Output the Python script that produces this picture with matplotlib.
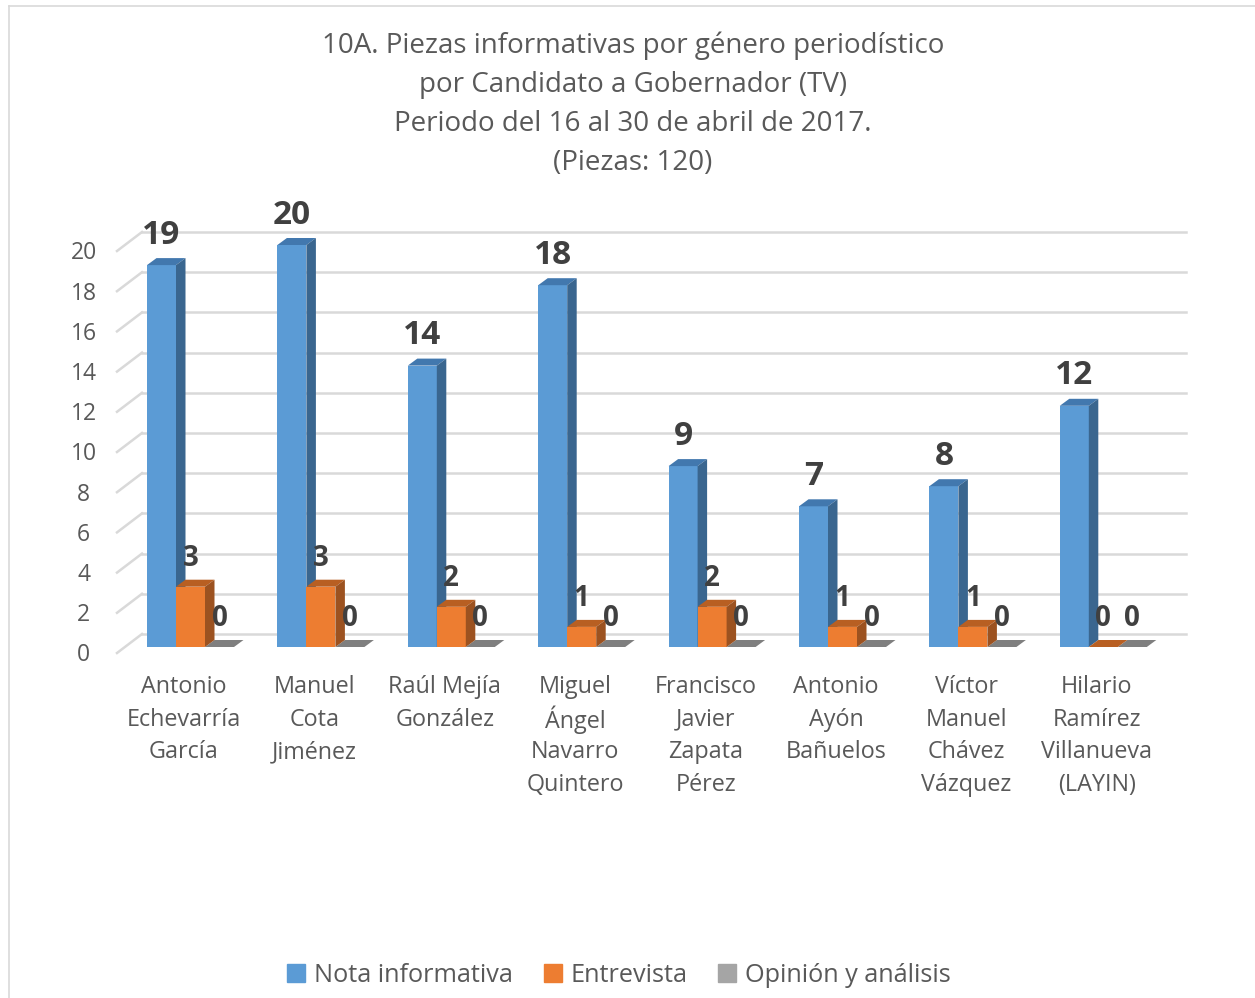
import matplotlib
matplotlib.use("Agg")
import matplotlib.pyplot as plt
from matplotlib.patches import Patch
from matplotlib.lines import Line2D

plt.rcParams["font.family"] = ["Open Sans", "DejaVu Sans"]

# datos
candidatos = [
    ["Antonio", "Echevarría", "García"],
    ["Manuel", "Cota", "Jiménez"],
    ["Raúl Mejía", "González"],
    ["Miguel", "Ángel", "Navarro", "Quintero"],
    ["Francisco", "Javier", "Zapata", "Pérez"],
    ["Antonio", "Ayón", "Bañuelos"],
    ["Víctor", "Manuel", "Chávez", "Vázquez"],
    ["Hilario", "Ramírez", "Villanueva", "(LAYIN)"],
]
nota = [19, 20, 14, 18, 9, 7, 8, 12]
entrevista = [3, 3, 2, 1, 2, 1, 1, 0]
opinion = [0, 0, 0, 0, 0, 0, 0, 0]
yticks = list(range(0, 21, 2))
titulo = [
    "10A. Piezas informativas por género periodístico",
    "por Candidato a Gobernador (TV)",
    "Periodo del 16 al 30 de abril de 2017.",
    "(Piezas: 120)",
]
nombres = ["Nota informativa", "Entrevista", "Opinión y análisis"]

W, H = 1255, 998
TXT = "#595959"
GRID = "#D9D9D9"
PX_Y = 402 / 20       # pixeles por unidad
PX_X = 130.4          # pixeles por categoria
BAR_W = 29 / PX_X
DX = 9.5 / PX_X       # profundidad de la barra
DY = 7 / PX_Y

fig = plt.figure(figsize=(W / 100, H / 100), dpi=100)
x_ini = 190.5 - PX_X / 2
ax = fig.add_axes([x_ini / W, (H - 647) / H, 8 * PX_X / W, 402 / H])
ax.set_xlim(-0.5, 7.5)
ax.set_ylim(0, 20)
ax.axis("off")

# borde del area del grafico
fig.add_artist(Line2D([8.5 / W, 8.5 / W], [0, 1 - 5.5 / H], color="#D9D9D9", lw=1.2))
fig.add_artist(Line2D([8.5 / W, 1], [1 - 5.5 / H, 1 - 5.5 / H], color="#D9D9D9", lw=1.2))

# rejilla en la pared del fondo y lineas laterales
gx0 = -0.5 + (142 - x_ini) / PX_X
gx1 = -0.5 + (1186 - x_ini) / PX_X
for v in yticks:
    y = v + 13 / PX_Y
    ax.plot([gx0, gx1], [y, y], color=GRID, lw=1.8, clip_on=False, zorder=1)
    ax.plot([gx0 - 25 / PX_X, gx0], [v - 6 / PX_Y, y], color=GRID, lw=1.8, clip_on=False, zorder=1)
    ax.text(-0.5 - 41.5 / PX_X, v - 0.42, str(v), ha="center", va="center",
            fontsize=16.5, color=TXT)


def barra3d(x, v, front, top, side, z):
    x0 = x - BAR_W / 2
    x1 = x + BAR_W / 2
    ax.bar(x, v, BAR_W, color=front, zorder=z, clip_on=False)
    ax.fill([x0, x1, x1 + DX, x0 + DX], [v, v, v + DY, v + DY], color=top, lw=0, zorder=z, clip_on=False)
    ax.fill([x1, x1 + DX, x1 + DX, x1], [0, DY, v + DY, v], color=side, lw=0, zorder=z, clip_on=False)


for i in range(len(candidatos)):
    z = 3 + i * 3
    barra3d(i - BAR_W, nota[i], "#5B9BD5", "#4278AE", "#3A668F", z)
    barra3d(i + BAR_W, opinion[i], "#A5A5A5", "#7F7F7F", "#7F7F7F", z + 1)
    barra3d(i, entrevista[i], "#ED7D31", "#B85F22", "#9C5220", z + 2)

    ax.text(i - BAR_W, nota[i] + 30 / PX_Y, str(nota[i]), ha="center", va="center",
            fontsize=24, fontweight="bold", color="#404040", zorder=50)
    ax.text(i, entrevista[i] + 28 / PX_Y, str(entrevista[i]), ha="center", va="center",
            fontsize=20, fontweight="bold", color="#404040", zorder=50)
    ax.text(i + BAR_W, opinion[i] + 28 / PX_Y, str(opinion[i]), ha="center", va="center",
            fontsize=20, fontweight="bold", color="#404040", zorder=50)

    # cada linea por separado para que el espaciado sea regular
    for j, linea in enumerate(candidatos[i]):
        ax.text(i - 6.5 / PX_X, -(687 + 32.6 * j - 647) / PX_Y, linea, ha="center", va="center",
                fontsize=16.8, color=TXT, clip_on=False)

for j, linea in enumerate(titulo):
    fig.text(633 / W, 1 - (46 + 39 * j) / H, linea, ha="center", va="center", fontsize=20, color=TXT)

handles = [Patch(color=c) for c in ("#5B9BD5", "#ED7D31", "#A5A5A5")]
fig.legend(handles, nombres, loc="center", bbox_to_anchor=(619 / W, 1 - 975 / H), ncol=3,
           frameon=False, fontsize=18.2, labelcolor=TXT, handlelength=0.72, handleheight=0.72,
           handletextpad=0.35, columnspacing=1.2)

fig.savefig("out.png", dpi=100)
